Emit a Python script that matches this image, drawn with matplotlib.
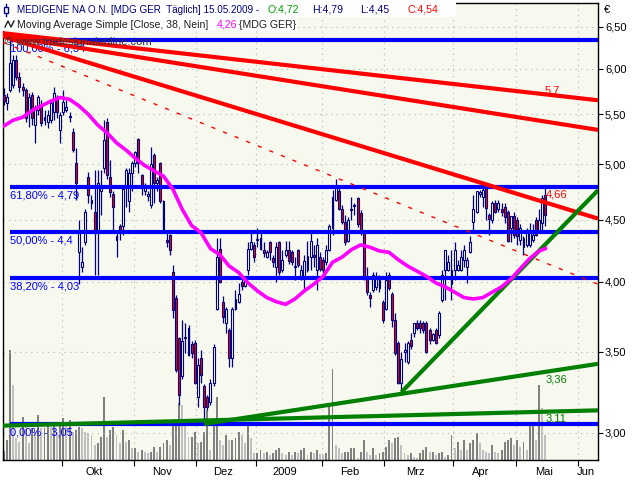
import numpy as np
import matplotlib
matplotlib.use("Agg")
import matplotlib.pyplot as plt
from matplotlib.patches import Rectangle
from matplotlib.lines import Line2D

# ---------------- data ----------------
opens = [5.71,5.62,5.76,5.82,6.10,5.91,5.80,5.76,5.53,5.71,5.39,5.55,5.58,5.47,5.42,5.44,5.53,5.69,5.34,5.52,
         5.55,5.47,5.32,5.01,4.23,4.11,4.31,4.88,4.67,4.57,4.41,4.75,4.97,5.42,4.88,4.73,4.36,4.45,4.45,4.79,
         4.66,4.92,5.01,5.25,4.90,4.75,4.71,4.63,5.09,4.83,5.01,4.66,4.33,4.37,4.07,3.88,3.59,3.34,3.60,3.66,
         3.55,3.56,3.21,3.46,3.28,3.21,3.18,3.30,3.80,4.26,3.85,3.70,3.65,3.46,3.80,3.85,4.00,3.97,4.09,4.26,
         4.29,4.34,4.35,4.25,4.19,4.31,4.18,4.11,4.31,4.09,4.21,4.25,4.23,4.11,4.25,4.04,4.04,4.09,4.19,4.21,
         4.09,4.19,4.17,4.15,4.25,4.43,4.67,4.75,4.59,4.48,4.32,4.58,4.62,4.69,4.56,4.39,4.02,3.90,3.94,3.96,
         4.01,3.85,3.80,4.05,3.91,3.72,3.56,3.30,3.50,3.43,3.58,3.63,3.70,3.70,3.70,3.70,3.65,3.58,3.65,3.61,
         3.86,4.09,4.09,3.98,4.09,4.09,4.09,4.17,4.11,4.23,4.48,4.57,4.73,4.70,4.81,4.54,4.50,4.65,4.59,4.59,
         4.61,4.57,4.43,4.53,4.50,4.33,4.35,4.29,4.29,4.33,4.50,4.41,4.47,4.72]
highs = [5.78,5.73,6.34,6.16,6.16,5.96,5.84,5.78,5.73,5.74,5.60,5.71,5.65,5.55,5.55,5.65,5.80,5.71,5.53,5.76,
         5.65,5.52,5.36,5.16,4.50,4.27,4.59,4.93,4.72,4.95,4.95,4.95,5.44,5.46,5.04,4.75,4.41,4.46,4.78,4.97,
         4.97,5.03,5.13,5.26,4.91,4.83,4.75,5.17,5.11,4.88,5.02,4.67,4.41,4.38,4.13,3.90,3.60,3.72,3.70,3.68,
         3.57,3.58,3.46,3.51,3.29,3.22,3.32,3.55,4.35,4.35,3.89,3.81,3.66,3.81,3.94,3.99,4.04,4.04,4.31,4.39,
         4.31,4.43,4.39,4.31,4.25,4.32,4.21,4.31,4.32,4.25,4.32,4.32,4.25,4.19,4.26,4.13,4.21,4.32,4.39,4.29,
         4.35,4.23,4.19,4.29,4.46,4.76,4.86,4.79,4.63,4.54,4.52,4.70,4.65,4.70,4.58,4.40,4.11,3.92,4.07,4.07,
         4.05,3.86,4.07,4.07,3.92,3.77,3.57,3.50,3.56,3.57,3.63,3.70,3.72,3.72,3.71,3.71,3.66,3.63,3.66,3.78,
         4.09,4.25,4.21,4.25,4.31,4.17,4.25,4.29,4.19,4.36,4.72,4.75,4.76,4.78,4.82,4.56,4.66,4.67,4.67,4.65,
         4.65,4.58,4.53,4.57,4.52,4.46,4.36,4.43,4.47,4.46,4.52,4.59,4.72,4.79]
lows = [5.60,5.55,5.74,5.78,5.87,5.74,5.70,5.42,5.37,5.39,5.21,5.49,5.38,5.39,5.36,5.41,5.44,5.46,5.21,5.49,
        5.53,5.42,5.12,4.67,3.98,4.07,4.29,4.65,4.59,4.05,4.05,4.54,4.92,4.86,4.70,4.39,4.19,4.33,4.37,4.61,
        4.57,4.75,4.98,4.92,4.72,4.72,4.66,4.60,4.65,4.75,4.65,4.40,4.27,4.21,3.73,3.37,3.16,3.32,3.49,3.47,
        3.46,3.29,3.15,3.30,3.05,3.13,3.16,3.28,3.79,3.99,3.70,3.63,3.40,3.40,3.79,3.84,3.94,3.96,4.05,4.25,
        4.15,4.27,4.25,4.19,4.18,4.17,4.11,4.00,4.05,4.07,4.19,4.14,4.13,4.01,4.11,4.01,3.92,4.07,4.09,4.11,
        3.94,4.08,4.05,4.13,4.24,4.37,4.66,4.58,4.46,4.29,4.31,4.50,4.54,4.44,4.37,4.01,3.90,3.81,3.92,3.94,
        3.92,3.70,3.79,3.94,3.67,3.48,3.29,3.24,3.43,3.42,3.52,3.60,3.65,3.63,3.63,3.49,3.55,3.57,3.55,3.59,
        3.85,3.86,4.08,3.86,4.01,4.08,4.08,4.11,3.99,4.22,4.39,4.56,4.70,4.61,4.50,4.37,4.47,4.56,4.57,4.53,
        4.47,4.31,4.31,4.35,4.29,4.29,4.21,4.27,4.27,4.31,4.36,4.41,4.41,4.45]
closes = [5.64,5.69,6.07,6.10,5.91,5.80,5.76,5.46,5.69,5.46,5.57,5.68,5.41,5.44,5.49,5.62,5.73,5.53,5.49,5.63,
          5.58,5.48,5.14,4.83,4.40,4.15,4.57,4.72,4.65,4.39,4.83,4.81,5.24,4.90,4.74,4.61,4.33,4.41,4.77,4.95,
          4.92,5.01,5.12,5.01,4.79,4.79,4.73,5.00,4.83,4.85,4.66,4.41,4.31,4.25,3.79,3.38,3.22,3.57,3.59,3.48,
          3.49,3.30,3.41,3.35,3.15,3.15,3.30,3.53,4.19,4.00,3.74,3.80,3.46,3.80,3.87,3.91,3.97,4.01,4.26,4.31,
          4.19,4.33,4.26,4.22,4.23,4.23,4.15,4.27,4.07,4.17,4.25,4.16,4.15,4.12,4.13,4.09,4.16,4.20,4.32,4.19,
          4.29,4.10,4.09,4.25,4.45,4.70,4.81,4.59,4.48,4.31,4.50,4.59,4.63,4.46,4.39,4.03,3.92,3.88,4.05,4.03,
          3.95,3.72,4.01,3.95,3.72,3.49,3.30,3.45,3.51,3.56,3.54,3.70,3.66,3.66,3.65,3.50,3.58,3.62,3.56,3.77,
          4.05,4.25,4.15,4.09,4.25,4.13,4.19,4.25,4.17,4.31,4.59,4.75,4.74,4.76,4.60,4.51,4.65,4.57,4.65,4.57,
          4.52,4.32,4.53,4.37,4.36,4.43,4.27,4.39,4.40,4.37,4.37,4.50,4.69,4.54]
volumes = [9,20,110,75,22,18,43,33,17,32,28,45,32,32,37,33,35,28,35,42,
           35,40,28,30,33,32,28,27,25,15,17,23,63,23,30,33,25,17,30,18,
           20,12,12,8,10,8,7,8,13,8,13,17,20,15,35,37,57,55,38,23,
           23,28,17,18,28,50,10,38,63,20,15,25,20,20,22,28,25,17,35,22,
           7,7,10,7,8,5,7,10,12,7,5,8,5,8,7,10,12,5,8,7,
           10,6,5,7,55,91,15,12,7,8,8,12,12,2,8,20,8,5,12,5,
           7,8,13,20,17,22,23,15,7,5,7,3,2,7,10,13,8,8,5,7,
           8,3,5,25,12,18,10,20,10,17,20,27,17,10,8,7,15,8,7,10,
           18,20,22,15,20,13,18,10,37,37,20,75,52,25]
ma_idx = list(range(0, 172, 3)) + [173]
ma_val = [5.38,5.44,5.47,5.54,5.59,5.64,5.68,5.66,5.59,5.50,5.39,5.31,5.21,5.14,5.06,4.99,4.94,4.89,4.77,4.59,
          4.45,4.39,4.26,4.21,4.12,4.07,3.99,3.93,3.88,3.85,3.83,3.87,3.93,3.98,4.04,4.15,4.19,4.25,4.29,4.27,
          4.24,4.23,4.17,4.12,4.08,4.04,3.99,3.96,3.92,3.88,3.87,3.88,3.92,3.96,4.02,4.10,4.18,4.24,4.26]

month_labels = ['Okt', 'Nov', 'Dez', '2009', 'Feb', 'Mrz', 'Apr', 'Mai', 'Jun']
month_bounds = [18.5, 41.5, 61.5, 80.5, 101.5, 121.5, 143.5, 163.5, 183.5]
month_label_pos = [28.8, 50.4, 70.0, 89.8, 110.6, 131.6, 152.3, 172.5, 185.9]
price_ticks = [3.0, 3.5, 4.0, 4.5, 5.0, 5.5, 6.0, 6.5]
price_tick_labels = ['3,00', '3,50', '4,00', '4,50', '5,00', '5,50', '6,00', '6,50']
fib_levels = [6.34, 4.79, 4.40, 4.03, 3.05]
fib_labels = ['100,00% - 6,34', '61,80% - 4,79', '50,00% - 4,4', '38,20% - 4,03', '0,00% - 3,05']
fib_start = 2

red_lines = [((-0.26, 6.42), (189.8, 5.65)),
             ((-0.26, 6.39), (189.8, 5.34)),
             ((-0.26, 6.38), (189.8, 4.51))]
red_dashed = ((-0.26, 6.31), (189.8, 3.98))
green_lines = [((-0.26, 3.04), (189.8, 3.13)),
               ((64, 3.05), (189.8, 3.42)),
               ((127, 3.24), (189.8, 4.76))]
line_labels = [('5,7', 172.8, 5.76, '#FF0000'), ('4,66', 173.2, 4.72, '#FF0000'),
               ('3,36', 172.9, 3.32, '#008000'), ('3,11', 172.9, 3.08, '#008000')]

header1 = [('MEDIGENE NA O.N. [MDG GER  Täglich] 15.05.2009 -', '#000080', 17, 7.1),
           ('O:4,72', '#00A000', 267, 7.6), ('H:4,79', '#000080', 312, 7.6),
           ('L:4,45', '#000080', 360, 7.6), ('C:4,54', '#FF0000', 408, 7.6)]
header2 = [('Moving Average Simple [Close, 38, Nein]', '#202020', 17, 7.6),
           ('4,26', '#FF00FF', 217, 7.6), ('{MDG GER}', '#202020', 239, 7.6)]

# ---------------- figure ----------------
plt.rcParams['font.family'] = ['Liberation Sans', 'DejaVu Sans']
W, H = 640, 480
fig = plt.figure(figsize=(6.4, 4.8), dpi=100, facecolor='white')
rect = [3 / W, 20 / H, 595 / W, 457 / H]
XMIN, XMAX = -0.26, 189.8
YMIN, YMAX = 2.8475, 6.8002

ax_v = fig.add_axes(rect)
ax_v.set_facecolor('#F7F9EF')
ax_v.set_xlim(XMIN, XMAX)
ax_v.set_ylim(0, 457)
for s in ax_v.spines.values():
    s.set_visible(False)
ax_v.tick_params(left=False, bottom=False, labelleft=False, labelbottom=False)

n = len(closes)
idx = np.arange(n)
vcol = ['#808080' if (i == 0 or volumes[i] >= volumes[i - 1]) else '#C0C0C0' for i in range(n)]
ax_v.bar(idx, volumes, width=0.62, color=vcol, linewidth=0, zorder=2)
for b in month_bounds:
    ax_v.axvline(b, color='#B4B4B4', lw=0.8, ls=(0, (1, 4)), zorder=1)

ax = fig.add_axes(rect)
ax.set_facecolor('none')
ax.set_yscale('log')
ax.set_xlim(XMIN, XMAX)
ax.set_ylim(YMIN, YMAX)

for p in price_ticks:
    ax.axhline(p, color='#B4B4B4', lw=0.8, ls=(0, (1, 4)), zorder=1)

# candles
navy = '#000080'
ax.vlines(idx, lows, highs, color=navy, lw=0.9, zorder=3)
o = np.array(opens); c = np.array(closes)
bottoms = np.minimum(o, c)
heights = np.maximum(np.abs(c - o), 0.004)
faces = ['white' if c[i] >= o[i] else '#FF0000' for i in range(n)]
ax.bar(idx, heights, bottom=bottoms, width=0.62, color=faces, edgecolor=navy, linewidth=0.8, zorder=4)

# fibonacci lines
for lv, lb in zip(fib_levels, fib_labels):
    ax.plot([fib_start, XMAX], [lv, lv], color='#0000FF', lw=3.0, zorder=5, solid_capstyle='butt')
    ax.annotate(lb, xy=(fib_start, lv), xytext=(0, -2.5), textcoords='offset points',
                ha='left', va='top', color='#0000FF', fontsize=8, zorder=6)

# red trendlines
for (x0, y0), (x1, y1) in red_lines:
    ax.plot([x0, x1], [y0, y1], color='#FF0000', lw=3.0, zorder=6, solid_capstyle='butt')
(x0, y0), (x1, y1) = red_dashed
ax.plot([x0, x1], [y0, y1], color='#FF0000', lw=1.0, ls=(0, (3, 6)), zorder=6)

# green trendlines
for (x0, y0), (x1, y1) in green_lines:
    ax.plot([x0, x1], [y0, y1], color='#008000', lw=3.0, zorder=7, solid_capstyle='butt')

# moving average
ax.plot(ma_idx, ma_val, color='#FF00FF', lw=2.6, zorder=8)

for txt, xx, yy, col in line_labels:
    ax.text(xx, yy, txt, color=col, fontsize=8, ha='left', va='center', zorder=9)

# axes styling
for s in ax.spines.values():
    s.set_color('black'); s.set_linewidth(1.0)
ax.yaxis.tick_right()
ax.set_yticks(price_ticks)
ax.set_yticklabels(price_tick_labels)
ax.yaxis.set_minor_locator(matplotlib.ticker.NullLocator())
ax.tick_params(axis='y', which='major', direction='out', length=3.5, width=0.8, labelsize=8, pad=1.5, colors='black')
ax.set_xticks(month_bounds)
ax.set_xticklabels([''] * len(month_bounds))
ax.set_xticks(month_label_pos, minor=True)
ax.set_xticklabels(month_labels, minor=True)
ax.tick_params(axis='x', which='major', direction='out', length=4, width=0.8)
ax.tick_params(axis='x', which='minor', length=0, labelsize=8, pad=5)

fig.text(604 / W, 1 - 10 / H, '€', fontsize=8, ha='left', va='center')

# header background boxes
fig.add_artist(Rectangle((0, 1 - 17 / H), 456 / W, 15 / H, transform=fig.transFigure,
                         facecolor='white', edgecolor='none', zorder=9))
fig.add_artist(Rectangle((0, 1 - 31 / H), 297 / W, 14 / H, transform=fig.transFigure,
                         facecolor='white', edgecolor='none', zorder=9))
for s, col, xp, fs in header1:
    fig.text(xp / W, 1 - 10 / H, s, color=col, fontsize=fs, ha='left', va='center', zorder=10)
for s, col, xp, fs in header2:
    fig.text(xp / W, 1 - 24.5 / H, s, color=col, fontsize=fs, ha='left', va='center', zorder=10)
fig.text(5 / W, 1 - 42 / H, '© www.tradesignalonline.com', color='#303030', fontsize=8,
         ha='left', va='center', zorder=0.5)

# small header icons
fig.add_artist(Line2D([6 / W, 6 / W], [1 - 16 / H, 1 - 4 / H], color=navy, lw=1, zorder=10))
fig.add_artist(Rectangle((4 / W, 1 - 13 / H), 4 / W, 6 / H, transform=fig.transFigure,
                         facecolor='white', edgecolor=navy, lw=1, zorder=11))
fig.add_artist(Line2D([5 / W, 8 / W, 11 / W, 14 / W], [1 - 27 / H, 1 - 21 / H, 1 - 27 / H, 1 - 21 / H],
                      color='#202020', lw=1, zorder=10))

fig.savefig('out.png', dpi=100, facecolor='white')
